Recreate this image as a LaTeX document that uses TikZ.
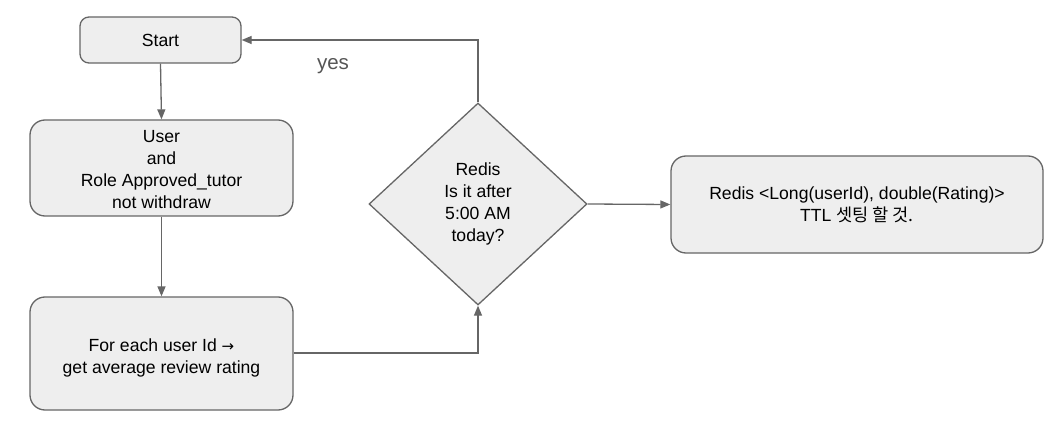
\documentclass[tikz,border=0pt]{standalone}
\usepackage{fontspec}
\setmainfont{Liberation Sans}
\newfontfamily\krfont{Noto Sans CJK KR}
\newfontfamily\arrfont{DejaVu Sans}
\usetikzlibrary{arrows.meta,shapes.geometric}
\definecolor{boxfill}{HTML}{EEEEEE}
\definecolor{edge}{HTML}{666666}
\definecolor{lbl}{HTML}{555555}
\begin{document}
\begin{tikzpicture}[x=1pt,y=-1pt,
  every node/.style={font=\fontsize{17.6}{22}\selectfont, text=black},
  procbox/.style={draw=edge, fill=boxfill, line width=1.3pt, align=center, inner sep=0pt},
  boxtext/.style={align=center, inner sep=0pt},
  decision/.style={draw=edge, fill=boxfill, line width=1.3pt, align=center, diamond, inner sep=0pt, minimum width=218pt, minimum height=202pt},
  conn/.style={draw=edge, line width=1.3pt, -{Triangle[length=10pt,width=8pt]}}
]
\useasboundingbox (0,0) rectangle (1052,422);
\node[procbox, rounded corners=9pt, minimum width=161pt, minimum height=46pt] (start) at (160.5,40) {Start};
\node[procbox, rounded corners=15pt, minimum width=263pt, minimum height=96pt] (user) at (161.5,168) {};
\node[boxtext] (usertext) at (161.5,170) {User\\and\\Role Approved\_tutor\\not withdraw};
\node[procbox, rounded corners=15pt, minimum width=263pt, minimum height=113pt] (each) at (161.5,353.5) {};
\node[boxtext] (eachtext) at (161.5,357.5) {For each user Id {\arrfont\fontsize{15}{22}\selectfont →}\\get average review rating};
\node[decision] (dec) at (478,204) {Redis\\Is it after\\5:00 AM\\today?};
\node[procbox, rounded corners=15pt, minimum width=372pt, minimum height=97pt] (redis) at (857,204.5) {Redis <Long(userId), double(Rating)>\\TTL {\krfont 셋팅 할 것.}};
\coordinate (c1) at (478,353);
\coordinate (c2) at (478,40);
\draw[conn] (start.south) -- (user.north);
\draw[conn] (user.south) -- (each.north);
\draw[conn] (each.east |- c1) -- (c1) -- (dec.south);
\draw[conn] (dec.north) -- (c2) -- (start.east);
\node[font=\fontsize{20.5}{24}\selectfont, text=lbl] (yes) at (333,66) {yes};
\draw[conn] (dec.east) -- (redis.west);
\end{tikzpicture}
\end{document}
